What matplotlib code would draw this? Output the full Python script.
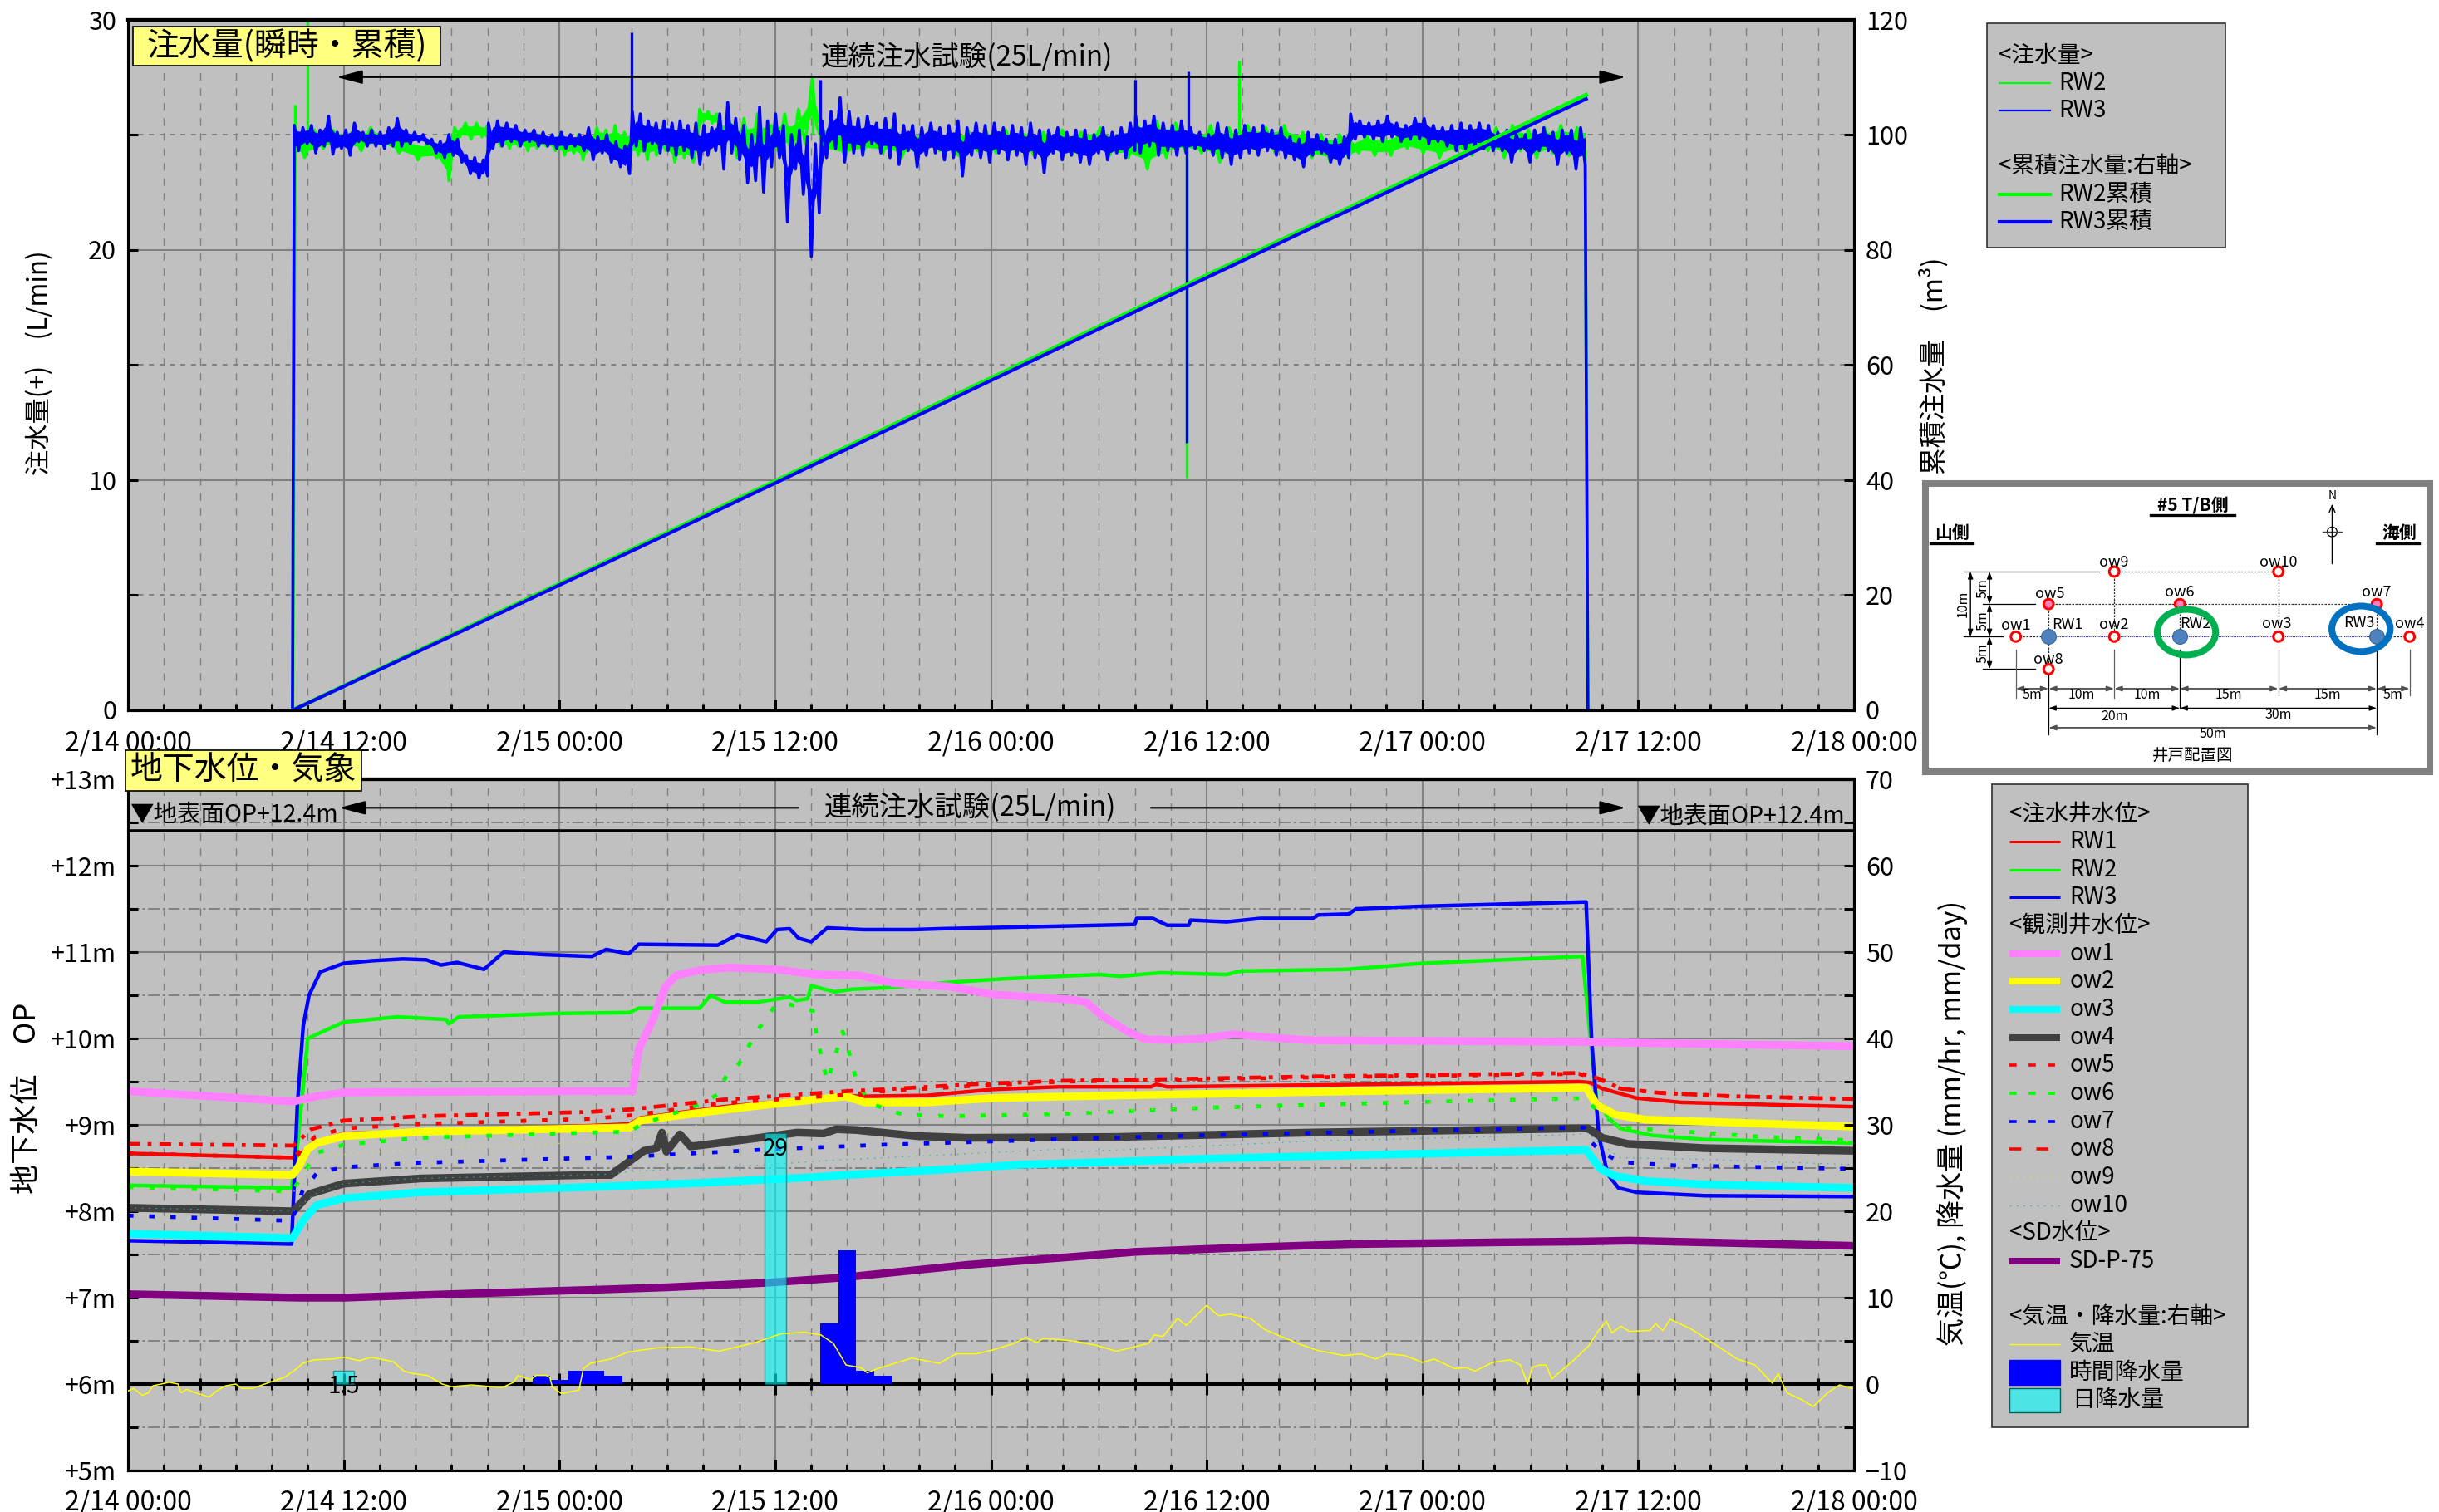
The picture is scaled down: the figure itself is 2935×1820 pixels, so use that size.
import numpy as np
import matplotlib
matplotlib.use('Agg')
import matplotlib.pyplot as plt
from matplotlib.patches import Ellipse, Rectangle, Circle
from matplotlib.ticker import MultipleLocator

plt.rcParams['font.family'] = ['Noto Sans CJK JP', 'DejaVu Sans']

W, H = 2935, 1820
GRAY = '#C0C0C0'
GRID = '#808080'

# 時刻は 2/14 00:00 からの経過時間 (h)
x_tick_hours = list(range(0, 97, 12))
x_tick_labels = ['2/14 00:00', '2/14 12:00', '2/15 00:00', '2/15 12:00', '2/16 00:00',
                 '2/16 12:00', '2/17 00:00', '2/17 12:00', '2/18 00:00']
y_level_ticks = [5, 6, 7, 8, 9, 10, 11, 12, 13]
y_level_labels = ['+5m', '+6m', '+7m', '+8m', '+9m', '+10m', '+11m', '+12m', '+13m']

# 注水量 RW3 (L/min) 区間ごと
rw3_blocks_t = [(9.25, 20.0), (20.05, 27.9), (28.05, 38.45), (38.6, 56.0), (56.05, 58.85), (59.1, 67.9), (68.0, 81.05)]
rw3_flow_a = [25.4, 24.3, 25.3, 24.6, 25.4, 24.2, 25.2, 24.5, 25.8, 24.15, 25.1, 24.4, 25.2, 24.1, 25.5, 24.7,
              25.1, 24.5, 25.2, 24.5, 25.1, 24.4, 25.3, 24.5, 25.7, 24.5, 25.2, 24.6, 25.1, 24.7, 25.0, 24.6,
              24.8, 24.2, 24.7, 24.0, 25.0, 24.1, 24.8, 23.8, 24.1, 23.3, 24.0, 23.1, 23.9, 23.2]
rw3_flow_b = [25.5, 24.4, 25.6, 24.5, 25.5, 24.7, 25.4, 24.5, 25.2, 24.7, 25.2, 24.5, 25.1, 24.5, 25.0, 24.4,
              25.1, 24.4, 25.0, 24.5, 25.0, 24.3, 25.3, 23.9, 24.9, 24.2, 25.0, 23.8, 24.7, 23.6, 24.5, 23.3]
rw3_flow_c = [26.0, 24.5, 25.9, 24.3, 25.6, 24.6, 25.5, 24.2, 25.6, 24.3, 25.5, 24.1, 25.6, 24.3, 25.4, 24.0,
              25.5, 23.7, 25.4, 24.1, 25.3, 24.3, 25.9, 23.5, 26.4, 24.2, 25.7, 23.9, 25.4, 22.9, 25.0, 23.0,
              26.2, 22.5, 25.6, 23.6, 25.9, 24.0, 25.4, 21.2, 25.0, 23.5, 25.2, 22.4, 24.9, 19.7, 24.6, 21.6]
rw3_flow_d = [25.6, 24.0, 26.0, 24.4, 26.6, 23.8, 26.0, 24.2, 25.7, 24.1, 25.8, 24.6, 25.5, 24.2, 25.7, 24.0,
              25.9, 23.7, 25.4, 24.3, 25.4, 23.6, 25.3, 24.1, 25.5, 24.2, 25.3, 23.9, 25.4, 24.0, 25.6, 23.2,
              25.3, 24.1, 25.5, 24.0, 25.4, 23.8, 25.5, 24.2, 25.3, 23.9, 25.4, 24.1, 25.3, 23.7, 25.5, 24.0,
              25.2, 23.35, 25.2, 24.2, 25.3, 23.9, 25.1, 24.1, 25.2, 23.8, 25.2, 23.7, 25.0, 24.2, 25.3, 23.9,
              25.1, 24.2, 25.3, 24.0, 25.5, 24.3]
rw3_flow_e = [25.8, 24.2, 25.6, 24.5, 25.8, 24.1, 25.5, 24.3, 25.4, 24.1, 25.6, 24.2]
rw3_flow_f = [25.3, 24.4, 25.1, 24.3, 25.0, 24.1, 25.5, 24.0, 25.3, 23.7, 25.2, 24.0, 25.4, 24.2, 25.3, 24.1,
              25.4, 24.3, 25.2, 24.1, 25.3, 24.0, 24.9, 23.9, 24.8, 23.6, 25.1, 24.1, 25.0, 24.2, 24.8, 23.8,
              24.8, 23.7, 24.9, 24.0]
rw3_flow_g = [25.9, 24.8, 25.6, 24.9, 25.5, 24.8, 25.6, 24.7, 25.8, 24.9, 25.5, 24.7, 25.4, 24.8, 25.7, 24.8,
              25.7, 24.6, 25.4, 24.7, 25.3, 24.5, 25.4, 24.3, 25.5, 24.4, 25.4, 24.5, 25.5, 24.4, 25.4, 24.3,
              25.1, 24.3, 25.2, 23.8, 25.0, 24.4, 25.0, 23.8, 25.2, 24.3, 25.3, 24.3, 25.1, 23.7, 25.2, 24.2,
              25.2, 23.5, 25.3, 23.7]
rw3_spike_t = [28.0, 38.5, 56.0, 59.0, 58.9]
rw3_spike_v = [29.45, 27.4, 27.4, 27.75, 11.6]

# 注水量 RW2 (L/min)
rw2_blocks_t = [(9.3, 17.7), (17.85, 20.0), (20.2, 31.7), (31.8, 33.2), (33.5, 38.05), (38.3, 58.8), (59.2, 67.9), (68.0, 81.05)]
rw2_flow_a = [25.3, 24.0, 25.2, 24.4, 25.2, 24.5, 25.1, 24.3, 25.3, 24.6, 25.0, 24.2, 24.8, 23.9, 24.6, 24.0, 24.5]
rw2_flow_b = [23.0, 25.3, 24.9, 25.5, 24.8, 25.5, 24.9, 25.4]
rw2_flow_c = [24.6, 25.2, 24.5, 25.1, 24.4, 25.0, 24.5, 25.0, 24.3, 25.1, 24.4, 25.0, 24.5, 24.9, 24.3, 25.0,
              24.1, 24.8, 24.2, 25.0, 23.9, 24.9, 24.3, 25.3, 24.5, 25.2, 24.1, 25.4, 24.2, 25.1, 24.0, 25.3,
              24.1, 25.2, 23.9, 25.3, 24.1, 25.2, 24.3, 25.0, 23.8, 25.1, 24.0, 25.0, 23.8, 25.0]
rw2_flow_d = [26.1, 25.6, 26.0, 25.5, 25.9, 25.4, 25.2]
rw2_flow_e = [25.5, 24.0, 25.7, 24.0, 25.9, 24.2, 25.4, 24.3, 25.9, 24.0, 26.1, 24.6, 27.4]
rw2_flow_f = [25.4, 24.2, 25.3, 24.0, 25.2, 24.3, 25.1, 24.2, 25.3, 24.0, 25.1, 24.3, 25.2, 24.3, 25.1, 24.1,
              25.2, 24.3, 25.1, 24.2, 25.2, 24.3, 25.0, 24.1, 25.1, 24.2, 25.2, 24.1, 25.1, 24.3, 25.3, 24.1,
              25.0, 24.0, 25.4, 23.5, 25.6, 24.0, 25.5, 24.3]
rw2_flow_g = [25.0, 24.2, 25.4, 23.8, 25.3, 24.2, 25.4, 24.3, 25.3, 24.2, 25.4, 24.1, 25.1, 24.0, 25.0, 23.8, 25.0, 24.0]
rw2_flow_h = [24.7, 24.2, 25.0, 24.1, 24.9, 24.1, 25.1, 24.4, 25.0, 24.2, 25.1, 24.0, 25.0, 24.3, 25.0, 24.1,
              25.2, 24.3, 25.3, 24.0, 25.4, 24.3, 25.2, 24.0, 25.3, 24.2, 25.4, 24.1, 25.3, 24.2]
rw2_spike_t = [9.3, 10.0, 38.1, 58.9, 61.8]
rw2_spike_v = [26.3, 30.0, 27.4, 10.1, 28.2]

# 累積注水量 (m3)
cum_t = [9.2, 20, 32, 44, 56, 68, 81.1]
rw2_cum = [0, 16.0, 33.8, 51.7, 69.6, 87.4, 106.9]
rw3_cum = [0, 15.8, 33.5, 51.3, 69.2, 87.0, 106.2]

# 注水井水位 (OP m)
rw1_t = [0, 9.1, 9.6, 10.2, 12, 18, 25.7, 27.9, 28.5, 33.1, 39.9, 40.7, 44.4, 48.1, 51.8, 56.9, 57.2, 57.8, 65.6, 80.7, 81.3, 82, 83.9, 86.4, 96]
rw1 = [8.67, 8.62, 8.66, 8.78, 8.9, 8.94, 8.99, 9.01, 9.08, 9.21, 9.34, 9.33, 9.34, 9.41, 9.44, 9.44, 9.47, 9.44, 9.46, 9.5, 9.49, 9.42, 9.31, 9.26, 9.21]
rw2_t = [0, 9.1, 9.4, 10.0, 12, 15, 17.7, 17.85, 18.4, 24, 27.9, 28.4, 31.8, 32.4, 33.2, 35, 36.8, 37.2, 37.8, 38, 39.3, 40.3, 42.5, 45.7, 48.7, 54, 55.2, 57.4, 61.1, 61.9, 67.8, 72, 80.9, 81.4, 81.7, 82.4, 83, 84.7, 87.7, 96]
rw2 = [8.30, 8.27, 8.7, 10.0, 10.19, 10.25, 10.22, 10.17, 10.25, 10.29, 10.30, 10.35, 10.35, 10.5, 10.42, 10.42, 10.48, 10.44, 10.46, 10.61, 10.54, 10.57, 10.59, 10.65, 10.69, 10.74, 10.72, 10.76, 10.74, 10.78, 10.8, 10.87, 10.95, 9.87, 9.26, 9.07, 8.96, 8.88, 8.83, 8.79]
rw3_t = [0, 9.1, 9.42, 9.75, 10.07, 10.7, 12, 13.6, 15.3, 16.6, 17.4, 18.3, 19.8, 20.9, 23.2, 25.8, 26.6, 27.85, 28.4, 32.8, 33.9, 35.5, 36.1, 36.8, 37.3, 38, 38.9, 40.9, 43.7, 45.2, 54, 56, 56.1, 57, 57.8, 59, 59.1, 61.1, 63, 65.9, 66.2, 67.9, 68.3, 72, 81.1, 81.4, 81.8, 82.3, 82.9, 83.9, 87.7, 96]
rw3 = [7.66, 7.62, 9.22, 10.15, 10.5, 10.77, 10.87, 10.9, 10.92, 10.91, 10.85, 10.88, 10.80, 11.0, 10.97, 10.95, 11.03, 10.98, 11.09, 11.08, 11.2, 11.12, 11.26, 11.27, 11.16, 11.12, 11.28, 11.26, 11.26, 11.27, 11.31, 11.32, 11.39, 11.39, 11.31, 11.31, 11.37, 11.35, 11.39, 11.39, 11.43, 11.44, 11.5, 11.53, 11.58, 10.0, 8.88, 8.43, 8.27, 8.22, 8.18, 8.17]

# 観測井水位 (OP m)
ow1_t = [0, 9.2, 10.5, 12, 25.7, 28.07, 28.4, 29.2, 29.9, 30.5, 31.8, 33.4, 36, 38.3, 40.7, 42.6, 45.7, 48.1, 52.4, 53.3, 54.2, 55.6, 56.6, 58.2, 59.8, 61.5, 63, 65.6, 80.7, 96]
ow1 = [9.39, 9.27, 9.33, 9.376, 9.39, 9.39, 9.87, 10.22, 10.6, 10.73, 10.79, 10.82, 10.8, 10.74, 10.73, 10.64, 10.6, 10.51, 10.45, 10.42, 10.26, 10.08, 9.99, 9.98, 10.0, 10.05, 10.02, 9.98, 9.96, 9.91]
ow2_t = [0, 9.15, 9.5, 10, 10.5, 12, 16.3, 25.7, 27.9, 28.5, 31.8, 35, 39.9, 41, 44.4, 48.1, 55, 65.6, 81.1, 81.7, 82.7, 84.4, 96]
ow2 = [8.46, 8.42, 8.52, 8.72, 8.79, 8.87, 8.92, 8.96, 8.97, 9.05, 9.14, 9.22, 9.33, 9.26, 9.26, 9.31, 9.34, 9.38, 9.43, 9.23, 9.12, 9.06, 8.98]
ow3_t = [0, 9.15, 9.8, 10.5, 12, 16.3, 25.7, 26.85, 32, 38.6, 39.1, 46, 49.7, 53, 60.3, 81.1, 81.9, 82.7, 84.4, 87.7, 96]
ow3 = [7.74, 7.69, 7.91, 8.07, 8.15, 8.22, 8.28, 8.29, 8.33, 8.4, 8.41, 8.49, 8.54, 8.56, 8.61, 8.71, 8.49, 8.41, 8.35, 8.31, 8.27]
ow4_t = [0, 9.2, 10.1, 12, 16.3, 25.7, 26.85, 28.7, 29.4, 29.7, 29.95, 30.7, 31.3, 32.5, 35.1, 37.2, 38.7, 39.4, 40.5, 43.9, 46.7, 55, 65.6, 81.2, 82, 83.4, 87.7, 96]
ow4 = [8.04, 8.0, 8.2, 8.32, 8.38, 8.42, 8.42, 8.7, 8.73, 8.91, 8.69, 8.89, 8.75, 8.78, 8.85, 8.91, 8.9, 8.95, 8.94, 8.87, 8.85, 8.86, 8.91, 8.96, 8.85, 8.78, 8.73, 8.70]
ow5_t = [0, 9.2, 10.4, 12, 16.3, 25.7, 28, 33, 40, 42, 47, 52, 58, 66, 80.7, 81.9, 83, 85.2, 89.3, 96]
ow5 = [8.67, 8.62, 8.86, 8.96, 9.01, 9.07, 9.11, 9.25, 9.35, 9.39, 9.45, 9.5, 9.52, 9.55, 9.59, 9.52, 9.42, 9.37, 9.33, 9.30]
ow6_t = [0, 9.1, 9.7, 10.4, 12, 16.3, 25.7, 27.9, 28.5, 31.8, 32.8, 33.3, 34, 35, 36, 36.7, 38.1, 38.3, 38.9, 39.75, 39.9, 40.6, 41.5, 43.1, 45.7, 52.4, 60.3, 71, 81.1, 81.5, 82, 83, 86, 91, 96]
ow6 = [8.28, 8.23, 8.4, 8.67, 8.77, 8.85, 8.91, 8.92, 9.0, 9.24, 9.35, 9.58, 9.71, 10.09, 10.38, 10.4, 10.32, 10.03, 9.5, 10.08, 10.0, 9.45, 9.23, 9.12, 9.1, 9.13, 9.2, 9.26, 9.31, 9.21, 9.12, 8.97, 8.93, 8.86, 8.82]
ow7_t = [0, 9.1, 9.7, 10.5, 12, 16, 27.8, 36, 42, 53, 60, 71, 81.0, 81.4, 81.9, 83, 86, 96]
ow7 = [7.95, 7.89, 8.23, 8.44, 8.51, 8.56, 8.63, 8.72, 8.77, 8.84, 8.88, 8.93, 8.97, 8.8, 8.69, 8.57, 8.53, 8.49]
ow8_t = [0, 9.2, 10.2, 12, 16.3, 25.7, 28, 33, 40, 42, 47, 52, 58, 66, 80.7, 81.9, 83, 85.2, 89.3, 96]
ow8 = [8.78, 8.76, 8.95, 9.05, 9.1, 9.15, 9.18, 9.29, 9.39, 9.41, 9.47, 9.51, 9.53, 9.56, 9.6, 9.53, 9.42, 9.37, 9.33, 9.30]
ow9_t = [0, 9.2, 10.4, 12, 16, 26.9, 33, 45, 60, 80, 81.2, 83, 96]
ow9 = [8.27, 8.22, 8.62, 8.66, 8.72, 8.81, 9.05, 9.1, 9.2, 9.3, 9.3, 8.96, 8.8]
ow10_t = [0, 9.2, 10.4, 12, 16, 26.85, 27.8, 34.9, 39.1, 52, 53, 65.6, 80.7, 81.2, 81.7, 83, 87.7, 96]
ow10 = [8.04, 8.0, 8.2, 8.32, 8.38, 8.43, 8.46, 8.53, 8.59, 8.72, 8.69, 8.81, 8.89, 8.91, 8.81, 8.62, 8.6, 8.54]

# SD水位 (OP m)
sd_t = [0, 9.5, 12, 16.3, 24, 25.7, 30, 35.3, 39.6, 46.7, 53, 56, 62, 68, 76, 81, 83.5, 96]
sd75 = [7.04, 7.0, 7.0, 7.03, 7.08, 7.09, 7.12, 7.17, 7.23, 7.38, 7.48, 7.53, 7.58, 7.62, 7.64, 7.65, 7.66, 7.60]

# 気温 (℃)
temp_t = [0, 0.31, 0.8, 1.14, 1.38, 2.29, 2.79, 2.95, 3.28, 3.6, 4.52, 4.93, 5.43, 6.0, 6.34, 6.92, 7.74, 8.73, 9.4, 9.72,
          10.38, 11.37, 12.03, 12.86, 13.52, 14.76, 15.34, 15.91, 16.66, 17.48, 17.98, 19.1, 20.8, 21.45, 21.7, 22.4, 22.7,
          23.26, 23.46, 23.6, 24.1, 25.08, 25.33, 25.7, 26.85, 27.8, 29.45, 31.3, 32.87, 34.87, 36.29, 37.59, 38.53, 39.24,
          39.94, 40.77, 41.12, 41.71, 43.6, 45.13, 46.05, 47.19, 48, 49.29, 49.94, 50.53, 50.92, 52.54, 53.83, 54.97, 56.75,
          57.08, 57.56, 58.38, 58.86, 60, 60.65, 61.3, 62.43, 63.24, 65.19, 66.16, 67.62, 68.59, 69.4, 70.05, 71.03, 72,
          72.65, 73.78, 74.43, 74.92, 75.89, 76.86, 77.45, 77.84, 78.1, 78.49, 78.87, 79.2, 80.43, 81.24, 81.73, 82.22,
          82.54, 83.03, 83.51, 84.65, 84.97, 85.36, 85.78, 86.92, 87.89, 89.51, 90.49, 91.46, 91.78, 92.27, 93.08, 93.73,
          94.54, 95.19, 95.9]
temp = [-0.8, -0.5, -1.3, -1.0, -0.2, 0.2, 0.0, -1.0, -0.6, -0.9, -1.5, -0.8, -0.2, 0.0, -0.5, -0.5, 0.1, 0.8, 1.8, 2.4,
        2.8, 2.9, 3.1, 2.7, 3.1, 2.6, 1.5, 1.2, 1.0, 0.0, -0.3, -0.1, -0.4, 0.2, 1.0, 0.5, 1.0,
        1.0, 0.8, -0.3, -1.1, -0.7, 1.8, 2.4, 2.9, 3.7, 4.2, 4.3, 3.8, 4.8, 5.8, 6.0, 5.7, 4.7,
        2.2, 1.9, 1.3, 1.8, 3.0, 2.4, 3.5, 3.5, 3.9, 4.7, 5.4, 4.8, 5.3, 5.0, 4.5, 3.8, 4.7,
        5.7, 5.5, 7.6, 6.8, 9.1, 7.9, 8.1, 7.6, 6.3, 4.6, 3.9, 3.3, 3.5, 2.9, 3.5, 3.3, 2.5,
        2.9, 1.8, 1.9, 1.5, 2.5, 2.8, 2.2, 0.0, 1.9, 2.2, 2.2, 0.6, 2.8, 4.4, 6.0, 7.3,
        5.9, 6.7, 6.1, 6.2, 7.0, 6.2, 7.5, 6.4, 5.1, 2.9, 2.2, 0.1, 1.2, -1.0, -1.8, -2.6,
        -1.0, -0.1, -0.5]

# 降水量
rain_hour_t = [23, 24, 25, 26, 27, 39, 40, 41, 42]
rain_hour = [1.0, 0.5, 1.5, 1.5, 1.0, 7.0, 15.5, 1.5, 1.0]
rain_day_t = [12, 36]
rain_day = [1.5, 29]

# 井戸配置 (m)
well_names = ['ow1', 'ow2', 'ow3', 'ow4', 'ow5', 'ow6', 'ow7', 'ow8', 'ow9', 'ow10']
well_x = [-5, 10, 35, 55, 0, 20, 50, 0, 10, 35]
well_y = [0, 0, 0, 0, 5, 5, 5, -5, 10, 10]
rw_names = ['RW1', 'RW2', 'RW3']
rw_x = [0, 20, 50]
rw_y = [0, 0, 0]


def axes_px(left, top, right, bottom, **kw):
    return fig.add_axes([left / W, 1 - bottom / H, (right - left) / W, (bottom - top) / H], **kw)


def blocks(blocks_t, *values):
    t = [np.linspace(a, b, len(v)) for (a, b), v in zip(blocks_t, values)]
    return np.concatenate(t), np.concatenate(values)


def flow_band(ax, t, v, color, zorder):
    # 読み取った上下の振れの内側は線が密で塗りつぶしに見えるので帯で描く
    hi = np.interp(t, t[0::2], v[0::2])
    lo = np.interp(t, t[1::2], v[1::2])
    mid = (hi + lo) / 2
    half = np.minimum((hi - lo) / 2, 0.6)
    ax.fill_between(t, mid - 0.62 * half, mid + 0.62 * half, color=color, lw=0, zorder=zorder)


def style_axes(ax, ax2, x_pad, minor_style):
    ax.set_facecolor(GRAY)
    ax.set_xlim(0, 96)
    ax.set_xticks(x_tick_hours, x_tick_labels, fontsize=23)
    ax.xaxis.set_minor_locator(MultipleLocator(2))
    ax.tick_params(axis='x', which='major', direction='in', length=9.4, width=2.2, pad=x_pad)
    ax.tick_params(axis='x', which='minor', direction='in', length=5, width=2.2)
    ax.tick_params(axis='y', which='both', direction='in', length=8.5, width=2.2, labelsize=22, pad=10)
    ax2.tick_params(axis='y', which='both', direction='in', length=8.5, width=2.2, labelsize=22, pad=10)
    ax.grid(True, which='major', color=GRID, lw=1.5)
    ax.grid(True, which='minor', axis='x', color=GRID, lw=1.0, ls=(0, (6.5, 6.5)))
    ax.grid(True, which='minor', axis='y', color=GRID, lw=1.4, ls=minor_style)
    ax.set_axisbelow(True)
    for a in (ax, ax2):
        for s in a.spines.values():
            s.set_linewidth(2.2)
        a.spines['top'].set_linewidth(3)


fig = plt.figure(figsize=(W / 100, H / 100), dpi=100)

# ---- 注水量
ax1 = axes_px(154, 23.5, 2231, 854.5)
ax1r = ax1.twinx()
ax1.set_ylim(0, 30)
ax1r.set_ylim(0, 120)
ax1.set_yticks([0, 10, 20, 30])
ax1.yaxis.set_minor_locator(MultipleLocator(5))
ax1r.set_yticks([0, 20, 40, 60, 80, 100, 120])
ax1r.yaxis.set_minor_locator(MultipleLocator(20))
style_axes(ax1, ax1r, 17, (0, (3, 3.5)))

t2, v2 = blocks(rw2_blocks_t, rw2_flow_a, rw2_flow_b, rw2_flow_c, rw2_flow_d, rw2_flow_e, rw2_flow_f, rw2_flow_g, rw2_flow_h)
t3, v3 = blocks(rw3_blocks_t, rw3_flow_a, rw3_flow_b, rw3_flow_c, rw3_flow_d, rw3_flow_e, rw3_flow_f, rw3_flow_g)
flow_band(ax1, t2, v2, '#00FF00', 3)
ax1.plot(np.r_[9.17, t2, 81.2], np.r_[0, v2, 0], color='#00FF00', lw=2.6, zorder=3)
ax1.vlines(rw2_spike_t, 25, rw2_spike_v, color='#00FF00', lw=2.4, zorder=3)
flow_band(ax1, t3, v3, '#0000FF', 4)
ax1.plot(np.r_[9.15, t3, 81.2], np.r_[0, v3, 0], color='#0000FF', lw=2.6, zorder=4)
ax1.vlines(rw3_spike_t, 25, rw3_spike_v, color='#0000FF', lw=2.4, zorder=4)
ax1r.plot(cum_t, rw2_cum, color='#00FF00', lw=3.6)
ax1r.plot(cum_t, rw3_cum, color='#0000FF', lw=3)

arrow = dict(arrowstyle='-|>,head_length=19,head_width=5', mutation_scale=1, color='k', lw=1.6, shrinkA=0, shrinkB=0)
ax1r.annotate('', xy=(11.6, 110), xytext=(47, 110), arrowprops=arrow)
ax1r.annotate('', xy=(83.3, 110), xytext=(47, 110), arrowprops=arrow)
ax1r.text(46.65, 113.3, '連続注水試験(25L/min)', fontsize=24, ha='center', va='center')

# ---- 地下水位・気象
ax2 = axes_px(154, 938, 2231, 1770)
ax2r = ax2.twinx()
ax2.set_ylim(5, 13)
ax2r.set_ylim(-10, 70)
ax2.set_yticks(y_level_ticks, y_level_labels)
ax2.yaxis.set_minor_locator(MultipleLocator(0.5))
ax2r.set_yticks(range(-10, 71, 10))
ax2r.yaxis.set_minor_locator(MultipleLocator(5))
style_axes(ax2, ax2r, 16, (0, (7, 2, 1.5, 2)))

ax2.axhline(12.4, color='k', lw=2.6, zorder=2)
ax2.plot(rw1_t, rw1, color='#FF0000', lw=3.2)
ax2.plot(rw2_t, rw2, color='#00FF00', lw=3.2)
ax2.plot(rw3_t, rw3, color='#0000FF', lw=3.2)
ax2.plot(ow1_t, ow1, color='#FF80FF', lw=6.8)
ax2.plot(ow2_t, ow2, color='#FFFF00', lw=6.8)
ax2.plot(ow3_t, ow3, color='#00FFFF', lw=6.8)
ax2.plot(ow4_t, ow4, color='#404040', lw=6.8)
ax2.plot(ow5_t, ow5, color='#FF0000', lw=3.4, ls=(0, (1.4, 4)))
ax2.plot(ow6_t, ow6, color='#00FF00', lw=3.4, ls=(0, (1.4, 4)))
ax2.plot(ow7_t, ow7, color='#0000FF', lw=3.4, ls=(0, (1.4, 4)))
ax2.plot(ow8_t, ow8, color='#FF0000', lw=3.4, ls=(0, (3, 2, 1, 2)))
ax2.plot(ow9_t, ow9, color='#E0E040', lw=0.8, ls=(0, (1.5, 6)))
ax2.plot(ow10_t, ow10, color='#20B2AA', lw=0.8, ls=(0, (1.5, 6)))
ax2.plot(sd_t, sd75, color='#800080', lw=6.8)

ax2r.axhline(0, color='k', lw=2.9, zorder=1)
for h in range(2, 96, 2):
    tick = 1.25 if h % 12 == 0 else 0.67
    ax2r.plot([h, h], [-tick, tick], color='k', lw=2.2, zorder=1, solid_capstyle='butt')
ax2r.bar(rain_hour_t, rain_hour, width=1, color='#0000FF', zorder=2)
ax2r.bar(rain_day_t, rain_day, width=1.18, color='#00FFFF', alpha=0.6, edgecolor='#006060', lw=1, zorder=3)
for t, v in zip(rain_day_t, rain_day):
    ax2r.text(t, v - 0.3, str(v), fontsize=20, ha='center', va='top', zorder=5)
ax2r.plot(temp_t, temp, color='#FFFF00', lw=1.1, zorder=4)

ax2r.annotate('', xy=(11.75, 66.7), xytext=(37.3, 66.7), arrowprops=arrow)
ax2r.annotate('', xy=(83.3, 66.7), xytext=(56.9, 66.7), arrowprops=arrow)
ax2r.text(46.85, 66.7, '連続注水試験(25L/min)', fontsize=24, ha='center', va='center')

# ---- 重ね書き用 (ピクセル座標)
ov = fig.add_axes([0, 0, 1, 1], zorder=10)
ov.set_xlim(0, W)
ov.set_ylim(H, 0)
ov.axis('off')
ov.patch.set_alpha(0)

box = dict(facecolor='#FFFF80', edgecolor='k', lw=1.2)
ov.add_patch(Rectangle((160, 32), 370, 47, **box))
ov.text(345, 55, '注水量(瞬時・累積)', fontsize=28, ha='center', va='center')
ov.add_patch(Rectangle((151, 903), 284, 49, **box))
ov.text(293, 927, '地下水位・気象', fontsize=28, ha='center', va='center')

ov.text(281, 981, '▼地表面OP+12.4m', fontsize=20.5, ha='center', va='center')
ov.text(2094, 983, '▼地表面OP+12.4m', fontsize=20.5, ha='center', va='center')

ov.text(47, 437, '注水量(+)　(L/min)', fontsize=22.5, rotation=90, ha='center', va='center')
ov.text(2327, 440, '累積注水量　(m³)', fontsize=23.5, rotation=90, ha='center', va='center')
ov.text(33, 1322, '地下水位　OP', fontsize=26, rotation=90, ha='center', va='center')
ov.text(2349, 1352, '気温(℃), 降水量 (mm/hr, mm/day)', fontsize=24.5, rotation=90, ha='center', va='center')


def legend_box(x0, y0, x1, y1):
    ov.add_patch(Rectangle((x0, y0), x1 - x0, y1 - y0, facecolor=GRAY, edgecolor='#303030', lw=1.2))


# 凡例1
legend_box(2391, 28, 2678, 298)
ov.text(2405, 67, '<注水量>', fontsize=20, va='center')
ov.plot([2406, 2467], [100, 100], color='#00FF00', lw=1.6)
ov.text(2477, 100, 'RW2', fontsize=20, va='center')
ov.plot([2406, 2467], [133, 133], color='#0000FF', lw=1.6)
ov.text(2477, 133, 'RW3', fontsize=20, va='center')
ov.text(2405, 200, '<累積注水量:右軸>', fontsize=20, va='center')
ov.plot([2406, 2467], [234, 234], color='#00FF00', lw=3)
ov.text(2477, 234, 'RW2累積', fontsize=20, va='center')
ov.plot([2406, 2467], [267, 267], color='#0000FF', lw=3)
ov.text(2477, 267, 'RW3累積', fontsize=20, va='center')

# 凡例2
legend_box(2397, 944, 2705, 1718)
header_rows = [('<注水井水位>', 980), ('<観測井水位>', 1115), ('<SD水位>', 1484), ('<気温・降水量:右軸>', 1585)]
for s, y in header_rows:
    ov.text(2418, y, s, fontsize=20, va='center')
line_rows = [('RW1', 1013, '#FF0000', 2.2, '-'), ('RW2', 1047, '#00FF00', 2.2, '-'), ('RW3', 1080, '#0000FF', 2.2, '-'),
             ('ow1', 1148, '#FF80FF', 5.8, '-'), ('ow2', 1181, '#FFFF00', 5.8, '-'), ('ow3', 1215, '#00FFFF', 5.8, '-'),
             ('ow4', 1249, '#404040', 5.8, '-'),
             ('ow5', 1282, '#FF0000', 2.6, (0, (2.4, 4))), ('ow6', 1316, '#00FF00', 2.6, (0, (2.4, 4))),
             ('ow7', 1350, '#0000FF', 2.6, (0, (2.4, 4))), ('ow8', 1383, '#FF0000', 2.6, (0, (4, 5))),
             ('ow9', 1417, '#E0E040', 0.8, (0, (1.5, 6))), ('ow10', 1451, '#20B2AA', 0.8, (0, (1.5, 6))),
             ('SD-P-75', 1518, '#800080', 5.8, '-'), ('気温', 1618, '#FFFF00', 1.0, '-')]
for s, y, c, lw, ls in line_rows:
    ov.plot([2418, 2479], [y, y], color=c, lw=lw, ls=ls, solid_capstyle='butt')
    ov.text(2490, y, s, fontsize=20, va='center')
ov.add_patch(Rectangle((2418, 1637), 61, 30, facecolor='#0000FF', edgecolor='#0000FF'))
ov.text(2490, 1652, '時間降水量', fontsize=20, va='center')
ov.add_patch(Rectangle((2418, 1671), 61, 29, facecolor='#4CE4E4', edgecolor='#006060', lw=1))
ov.text(2493, 1685, '日降水量', fontsize=20, va='center')

# ---- 井戸配置図 (m)
dg = axes_px(2317, 581.5, 2924, 929.5, zorder=11)
dg.set_xlim(-18.76, 58.08)
dg.set_ylim(-20.84, 23.6)
dg.set_xticks([])
dg.set_yticks([])
for s in dg.spines.values():
    s.set_color(GRID)
    s.set_linewidth(5.8)

dash = dict(color='#303030', lw=0.9, ls=(0, (2, 1.2)))
for xs, ys in [([10, 35], [10, 10]), ([0, 50], [5, 5]), ([0, 0], [5, -5]), ([10, 10], [10, 0]),
               ([20, 20], [5, 0]), ([35, 35], [10, 0]), ([50, 50], [5, 0]), ([-5, 0], [0, 0]), ([50, 55], [0, 0])]:
    dg.plot(xs, ys, **dash)
dg.plot([0, 50], [0, 0], color='#2020C0', lw=0.8, ls=(0, (1, 1)))

for xs, ys, c in [([-13, 7.7], [10, 10], 'k'), ([-10, -2], [5, 5], 'k'), ([-13, -7], [0, 0], 'k'), ([-10, -2], [-5, -5], 'k'),
                  ([-5, -5], [-2, -9.4], '#606060'), ([0, 0], [-6, -15], 'k'), ([10, 10], [-2, -9.4], '#606060'),
                  ([20, 20], [-2, -11], 'k'), ([35, 35], [-2, -9], '#606060'), ([50, 50], [-2, -15], 'k'), ([55, 55], [-2, -9], '#606060')]:
    dg.plot(xs, ys, color=c, lw=0.9)


def dim(x0, y0, x1, y1, c='k', lw=1.0):
    st = dict(arrowstyle='<|-|>,head_length=5,head_width=1.8', mutation_scale=1, color=c, lw=lw, shrinkA=0, shrinkB=0)
    dg.annotate('', xy=(x0, y0), xytext=(x1, y1), arrowprops=st)


for a, b in [(-5, 0), (0, 10), (10, 20), (20, 35), (35, 50), (50, 55)]:
    dim(a, -8, b, -8, '#505050', 1.3)
dim(0, -11, 20, -11)
dim(20, -11, 50, -11)
dim(0, -14, 50, -14, '#505050', 1.3)
dim(-11.9, 10, -11.9, 0)
dim(-9, 10, -9, 5)
dim(-9, 5, -9, 0)
dim(-9, 0, -9, -5)

for s, x, y in [('5m', -2.5, -9), ('10m', 5, -9), ('10m', 15, -9), ('15m', 27.5, -9), ('15m', 42.5, -9), ('5m', 52.5, -9),
                ('20m', 10, -12.3), ('30m', 35, -12), ('50m', 25, -15)]:
    dg.text(x, y, s, fontsize=11.5, ha='center', va='center')
dg.text(-13, 5, '10m', fontsize=11.5, rotation=90, ha='center', va='center')
for y in (7.4, 2.5, -2.5):
    dg.text(-10, y, '5m', fontsize=11.5, rotation=90, ha='center', va='center')

ring_color = ['white', 'white', 'white', 'white', '#FF80C0', '#FF80C0', '#FF80C0', 'white', 'white', 'white']
dg.scatter(well_x, well_y, s=72, facecolor=ring_color, edgecolor='#FF0000', lw=2.2, zorder=5)
dg.scatter(rw_x, rw_y, s=165, facecolor='#4F81BD', edgecolor='#3A6496', lw=0.8, zorder=5)

label_x = [-5, 10, 34.7, 55, 0.2, 20, 50, 0, 10, 35]
label_y = [1.66, 1.8, 1.9, 1.9, 6.6, 6.85, 6.85, -3.5, 11.4, 11.4]
for s, x, y in zip(well_names, label_x, label_y):
    dg.text(x, y, s, fontsize=13, ha='center', va='center', zorder=6)
for s, x, y in zip(rw_names, [2.8, 22.4, 47.3], [1.8, 1.9, 2.1]):
    dg.text(x, y, s, fontsize=13, ha='center', va='center', zorder=6)

dg.add_patch(Ellipse((21, 0.68), 8.9, 7.0, fill=False, edgecolor='#00B050', lw=5.8, zorder=7))
dg.add_patch(Ellipse((47.6, 1.2), 8.9, 7.0, fill=False, edgecolor='#0070C0', lw=5.8, zorder=7))

dg.text(21.9, -18.4, '井戸配置図', fontsize=14, ha='center', va='center')
for s, x, y, x0, x1, uy in [('#5 T/B側', 22, 20.1, 15.5, 28.3, 18.7), ('山側', -14.7, 15.9, -18, -11.5, 14.3), ('海側', 53.4, 15.9, 50, 56.4, 14.3)]:
    dg.text(x, y, s, fontsize=15, ha='center', va='center', fontweight='bold')
    dg.plot([x0, x1], [uy, uy], color='k', lw=2.4)

dg.annotate('', xy=(43.2, 20.4), xytext=(43.2, 11.2),
            arrowprops=dict(arrowstyle='->,head_length=6,head_width=2.5', mutation_scale=1, color='k', lw=1.0, shrinkA=0, shrinkB=0))
dg.plot([41.7, 44.7], [16.1, 16.1], color='#404040', lw=1.0)
dg.add_patch(Circle((43.2, 16.1), 0.75, fill=False, edgecolor='k', lw=0.9))
dg.text(43.2, 21.6, 'N', fontsize=10, style='italic', ha='center', va='center')

fig.savefig('out.png', dpi=100)
